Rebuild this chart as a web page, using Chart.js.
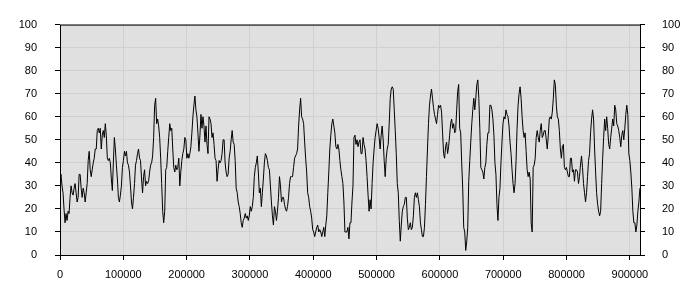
<!DOCTYPE html>
<html lang="en">
<head>
<meta charset="UTF-8">
<title>Series</title>
<script src="https://cdn.jsdelivr.net/npm/chart.js@4"></script>
<style>
  body { margin: 0; background: #fff; }
  #wrap { width: 700px; height: 300px; }
</style>
</head>
<body>
<div id="wrap"><canvas id="chart" width="700" height="300"></canvas></div>
<script>
// sample spacing on x and axis range
const xStep = 1590;
const xMax = 916000;
const xTicks = [0, 100000, 200000, 300000, 400000, 500000, 600000, 700000, 800000, 900000];
const yTicks = [0, 10, 20, 30, 40, 50, 60, 70, 80, 90, 100];

// values, left to right
const values = [
  33,35,30,27,20,14,18,15,19,18,25,30,27,26,29,31,27,23,25,35,35,29,25,29,27,23,27,31,41,45,
  37,34,37,40,42,46,46,54,55,53,55,46,52,54,51,57,52,42,41,42,40,33,28,40,51,46,39,33,25,23,
  26,30,38,41,45,43,45,40,39,36,30,23,20,25,31,39,41,44,46,42,41,33,27,34,37,30,32,31,32,36,
  39,40,43,
  51,65,68,57,59,56,51,42,31,19,14,19,37,38,45,51,57,54,55,46,38,36,39,37,38,42,30,36,41,44,
  46,51,50,42,44,42,44,47,53,60,65,69,63,60,53,45,52,61,55,60,56,49,56,48,44,60,59,57,51,53,
  48,42,41,32,37,41,40,41,44,50,50,40,36,34,35,42,45,50,54,49,48,41,29,27,23,21,18,14,12,15,
  16,18,16,17,15,17,21,19,
  21,25,34,38,40,43,36,27,29,21,27,33,40,44,43,41,38,37,30,23,17,13,21,19,15,19,25,34,30,23,
  25,25,22,20,19,21,25,31,34,34,34,38,42,43,44,46,56,63,68,60,59,57,49,42,36,27,25,21,19,16,
  11,10,8,10,12,13,10,11,10,8,10,12,8,13,17,27,36,46,52,57,59,56,53,47,46,48,46,41,37,34,
  31,23,10,10,10,12,7,
  14,14,23,30,51,52,48,50,47,49,50,44,44,51,48,46,41,34,26,19,24,20,31,40,46,51,54,57,55,51,
  46,52,56,50,41,34,42,46,48,57,68,72,73,72,63,54,44,31,27,15,6,13,19,21,22,25,25,16,11,12,
  14,11,12,17,25,27,25,27,24,21,14,11,8,8,12,22,34,46,57,65,69,72,68,64,61,59,57,61,65,64,
  65,62,53,44,42,47,49,
  44,47,52,57,59,55,57,53,54,63,71,74,55,53,40,29,12,10,2,6,12,32,41,49,57,63,68,63,68,74,
  76,68,55,38,37,36,33,38,40,48,53,53,65,65,63,59,52,40,35,22,15,25,29,40,49,57,60,59,63,61,
  60,56,49,44,37,31,27,31,41,55,65,70,73,68,60,54,51,53,45,37,34,36,33,14,10,38,39,42,51,54,
  51,49,54,57,51,52,54,
  54,50,46,52,59,60,59,62,68,76,74,65,60,59,54,46,42,47,48,38,37,38,36,34,34,42,42,36,37,32,
  37,37,36,31,34,39,43,38,31,27,23,27,34,41,44,53,59,63,59,46,36,27,22,19,17,19,31,42,51,59,
  54,60,55,48,46,51,55,59,56,65,63,57,56,54,51,47,52,54,50,55,61,65,61,44,41,36,29,19,14,14,
  10,13,19,23,29
];

const points = values.map((v, i) => ({ x: i * xStep, y: v }));

const font = { family: "'Liberation Sans', Arial, sans-serif", size: 11 };

// grey plot background and black frame round the plot area
const frame = {
  id: "frame",
  beforeDraw(chart) {
    const a = chart.chartArea, ctx = chart.ctx;
    ctx.save();
    ctx.fillStyle = "#e0e0e0";
    ctx.fillRect(a.left, a.top, a.right - a.left, a.bottom - a.top);
    ctx.restore();
  },
  afterDraw(chart) {
    const a = chart.chartArea, ctx = chart.ctx;
    ctx.save();
    ctx.strokeStyle = "#000";
    ctx.lineWidth = 1;
    ctx.strokeRect(a.left + 0.5, a.top + 0.5, a.right - a.left, a.bottom - a.top);
    ctx.restore();
  }
};

function yAxis(pos, pad) {
  return {
    type: "linear",
    position: pos,
    min: 0,
    max: 100,
    afterBuildTicks: s => { s.ticks = yTicks.map(v => ({ value: v })); },
    afterFit: s => { s.width = 60; },
    grid: { color: "#d0d0d0", tickColor: "#000", tickLength: 5, drawOnChartArea: pos === "left" },
    border: { display: false },
    ticks: { color: "#000", font, padding: pad }
  };
}

new Chart(document.getElementById("chart"), {
  type: "line",
  data: {
    datasets: [{
      data: points,
      borderColor: "#000",
      borderWidth: 1,
      pointRadius: 0,
      tension: 0,
      fill: false
    }]
  },
  options: {
    responsive: false,
    animation: false,
    devicePixelRatio: 1,
    layout: { padding: { top: 10, left: 0, right: 0, bottom: 0 } },
    plugins: { legend: { display: false }, tooltip: { enabled: false } },
    scales: {
      x: {
        type: "linear",
        min: 0,
        max: xMax,
        afterBuildTicks: s => { s.ticks = xTicks.map(v => ({ value: v })); },
        afterFit: s => { s.height = 45; },
        grid: { color: "#d0d0d0", tickColor: "#000", tickLength: 5 },
        border: { display: false },
        ticks: { color: "#000", font, padding: 8, maxRotation: 0, autoSkip: false, callback: v => String(v) }
      },
      y: yAxis("left", 18),
      y2: yAxis("right", 17)
    }
  },
  plugins: [frame]
});
</script>
</body>
</html>
